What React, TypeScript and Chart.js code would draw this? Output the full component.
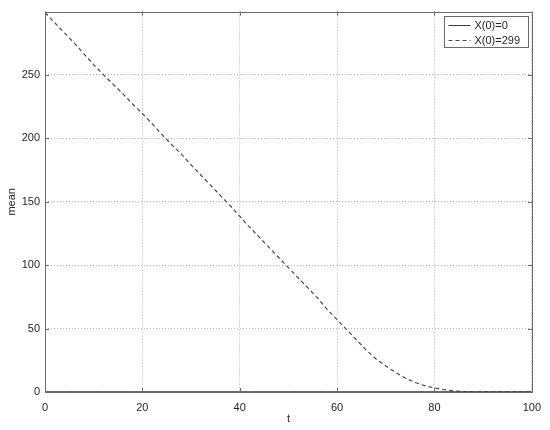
import React, { useEffect, useRef } from "react";
import { Chart, registerables } from "chart.js";

Chart.register(...registerables);

const tValues = [0, 2, 4, 6, 8, 10, 12, 14, 16, 18, 20, 22, 24, 26, 28, 30, 32, 34, 36, 38, 40, 42, 44, 46, 48, 50, 52, 54, 56, 58, 60, 62, 64, 66, 68, 70, 72, 74, 76, 78, 80, 82, 84, 86, 88, 90, 92, 94, 96, 98, 100];
const meanFrom299 = [299, 291, 283, 275, 266.5, 258, 250, 242.5, 235, 227, 219.5, 211.5, 203, 195, 187.5, 179, 171, 163, 155, 147, 138.5, 130, 122, 114, 106, 98, 90, 82, 74, 65, 57, 49, 41, 33, 26, 20.5, 15.5, 11, 7.5, 5, 3.2, 1.8, 0.9, 0.4, 0.2, 0.1, 0.1, 0.1, 0.1, 0.1, 0.1];
const meanFrom0 = [0.2, 0.2, 0.2, 0.2, 0.2, 0.2, 0.2, 0.2, 0.2, 0.2, 0.2, 0.2, 0.2, 0.2, 0.2, 0.2, 0.2, 0.2, 0.2, 0.2, 0.2, 0.2, 0.2, 0.2, 0.2, 0.2, 0.2, 0.2, 0.2, 0.2, 0.2, 0.2, 0.2, 0.2, 0.2, 0.2, 0.2, 0.2, 0.2, 0.2, 0.2, 0.2, 0.2, 0.2, 0.2, 0.2, 0.2, 0.2, 0.2, 0.2, 0.2];
const seriesLabels = ["X(0)=0", "X(0)=299"];
const xTicks = [0, 20, 40, 60, 80, 100];
const yTicks = [0, 50, 100, 150, 200, 250];

const FONT = "Arial, 'Liberation Sans', Helvetica, sans-serif";
const TEXT = "#262626";
const AXIS = "#6a6a6a";

const boxPlugin = {
  id: "matlabBox",
  afterDatasetsDraw(chart: any) {
    const { ctx, chartArea: a, scales } = chart;
    ctx.save();
    ctx.strokeStyle = AXIS;
    ctx.lineWidth = 1;
    ctx.strokeRect(Math.round(a.left) + 0.5, Math.round(a.top) + 0.5, Math.round(a.right - a.left), Math.round(a.bottom - a.top));
    // inward ticks
    const tl = 4;
    ctx.beginPath();
    for (const v of xTicks) {
      const x = Math.round(scales.x.getPixelForValue(v)) + 0.5;
      ctx.moveTo(x, a.bottom); ctx.lineTo(x, a.bottom - tl);
      ctx.moveTo(x, a.top); ctx.lineTo(x, a.top + tl);
    }
    for (const v of yTicks) {
      const y = Math.round(scales.y.getPixelForValue(v)) + 0.5;
      ctx.moveTo(a.left, y); ctx.lineTo(a.left + tl, y);
      ctx.moveTo(a.right, y); ctx.lineTo(a.right - tl, y);
    }
    ctx.stroke();

    // legend
    const w = 84, h = 31;
    const lx = Math.round(a.right - 4 - w) + 0.5;
    const ly = Math.round(a.top + 4) + 0.5;
    ctx.fillStyle = "#ffffff";
    ctx.fillRect(lx, ly, w, h);
    ctx.strokeStyle = AXIS;
    ctx.strokeRect(lx, ly, w, h);
    ctx.font = `11px ${FONT}`;
    ctx.textBaseline = "middle";
    ctx.textAlign = "left";
    chart.data.datasets.forEach((ds: any, i: number) => {
      const yy = Math.round(ly + 8.5 + i * 14.5) + 0.5;
      ctx.beginPath();
      ctx.strokeStyle = ds.borderColor;
      ctx.lineWidth = 1;
      ctx.setLineDash(ds.borderDash || []);
      ctx.moveTo(lx + 4, yy);
      ctx.lineTo(lx + 26, yy);
      ctx.stroke();
      ctx.setLineDash([]);
      ctx.fillStyle = TEXT;
      ctx.fillText(ds.label, lx + 30, yy);
    });
    ctx.restore();
  },
};

export default function App() {
  const ref = useRef<HTMLCanvasElement>(null);
  useEffect(() => {
    if (!ref.current) return;
    const chart = new Chart(ref.current, {
      type: "line",
      data: {
        datasets: [
          {
            label: seriesLabels[0],
            data: tValues.map((t, i) => ({ x: t, y: meanFrom0[i] })),
            borderColor: "#3a3a3a",
            borderWidth: 1,
            pointRadius: 0,
            fill: false,
          },
          {
            label: seriesLabels[1],
            data: tValues.map((t, i) => ({ x: t, y: meanFrom299[i] })),
            borderColor: "#4a4a4a",
            borderWidth: 1.2,
            borderDash: [4, 3],
            pointRadius: 0,
            fill: false,
          },
        ],
      },
      options: {
        responsive: false,
        animation: false,
        devicePixelRatio: 1,
        layout: { padding: { top: 7, right: 18, left: 0, bottom: 0 } },
        plugins: { legend: { display: false }, tooltip: { enabled: false } },
        scales: {
          x: {
            type: "linear",
            min: 0,
            max: 100,
            afterFit: (s: any) => { s.height = 38; },
            afterBuildTicks: (s: any) => { s.ticks = xTicks.map((v) => ({ value: v })); },
            ticks: { color: TEXT, font: { family: FONT, size: 11 }, padding: 9, maxRotation: 0 },
            grid: { color: "rgba(0,0,0,0.3)", drawTicks: false },
            border: { display: false, dash: [1, 2] },
            title: { display: true, text: "t", color: TEXT, font: { family: FONT, size: 11 }, padding: { top: 0, bottom: 4 } },
          },
          y: {
            type: "linear",
            min: 0,
            max: 299.8,
            afterFit: (s: any) => { s.width = 45; },
            afterBuildTicks: (s: any) => { s.ticks = yTicks.map((v) => ({ value: v })); },
            ticks: { color: TEXT, font: { family: FONT, size: 11 }, padding: 5 },
            grid: { color: "rgba(0,0,0,0.3)", drawTicks: false },
            border: { display: false, dash: [1, 2] },
            title: { display: true, text: "mean", color: TEXT, font: { family: FONT, size: 11 }, padding: { top: 5, bottom: 0 } },
          },
        },
      },
      plugins: [boxPlugin],
    });
    return () => chart.destroy();
  }, []);
  return (
    <div style={{ position: "fixed", left: 0, top: 0, width: 550, height: 430, background: "#fff" }}>
      <canvas ref={ref} width={550} height={430} style={{ display: "block" }} />
    </div>
  );
}
